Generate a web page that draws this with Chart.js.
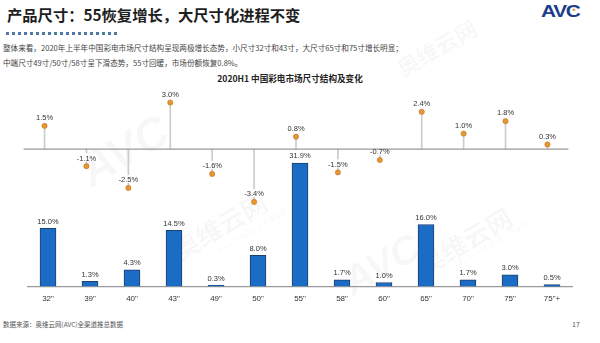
<!DOCTYPE html>
<html>
<head>
<meta charset="utf-8">
<script src="https://cdn.jsdelivr.net/npm/chart.js@4"></script>
<style>
body{margin:0;width:600px;height:343px;position:relative;overflow:hidden;background:#fff;font-family:"Noto Sans CJK SC","Noto Sans",sans-serif;color:#333;}
.abs{position:absolute;white-space:nowrap;}
#title{left:7px;top:3px;font-size:15.3px;font-weight:bold;color:#1e1e1e;}
#dots{left:6px;top:32px;width:112px;height:3px;background:repeating-linear-gradient(90deg,#4f79a6 0 3px,transparent 3px 6px);}
#logo{left:541px;top:3px;font-family:"Liberation Sans",sans-serif;font-size:16px;font-weight:bold;color:#1d3c8c;transform:scaleX(1.3);transform-origin:left center;letter-spacing:-1px;}
#logo span{color:#e8961e;font-size:5px;vertical-align:top;position:relative;left:-6px;top:3px;}
.body{left:3px;font-size:7.6px;color:#444;}
#ctitle{left:0;width:580px;top:72px;text-align:center;font-size:8.6px;font-weight:bold;color:#222;}
#src{left:3px;top:319px;font-size:6.5px;color:#555;}
#page{left:572px;top:319px;font-size:7px;color:#555;}
.wm{position:absolute;color:rgba(0,0,0,0.04);font-weight:bold;white-space:nowrap;transform:rotate(-30deg);transform-origin:left top;}
canvas{position:absolute;}
</style>
</head>
<body>
<div class="abs" id="title">产品尺寸：55恢复增长，大尺寸化进程不变</div>
<div class="abs" id="dots"></div>
<div class="abs" id="logo">AVC<span>●</span></div>
<div class="abs body" style="top:42px">整体来看，2020年上半年中国彩电市场尺寸结构呈现两极增长态势，小尺寸32寸和43寸，大尺寸65寸和75寸增长明显；</div>
<div class="abs body" style="top:57px">中端尺寸49寸/50寸/58寸呈下滑态势，55寸回暖，市场份额恢复0.8%。</div>
<div class="abs" id="ctitle">2020H1 中国彩电市场尺寸结构及变化</div>

<div class="wm" style="left:70px;top:150px;font-size:46px;font-family:'Liberation Sans';font-style:italic;">AVC</div>
<div class="wm" style="left:165px;top:235px;font-size:26px;">奥维云网</div>
<div class="wm" style="left:215px;top:245px;font-size:8px;letter-spacing:1px;">ALL VIEW CLOUD</div>
<div class="wm" style="left:335px;top:265px;font-size:40px;font-family:'Liberation Sans';font-style:italic;">AVC</div>
<div class="wm" style="left:410px;top:250px;font-size:26px;">奥维云网</div>
<div class="wm" style="left:455px;top:258px;font-size:8px;letter-spacing:1px;">ALL VIEW CLOUD</div>
<div class="wm" style="left:390px;top:55px;font-size:22px;">奥维云网</div>

<canvas id="bars" width="546" height="164" style="left:27px;top:140px"></canvas>
<canvas id="change" width="554" height="145" style="left:19px;top:80px"></canvas>

<div class="abs" id="src">数据来源：奥维云网(AVC)全渠道推总数据</div>
<div class="abs" id="page">17</div>

<script>
const sizes = ['32"', '39"', '40"', '43"', '49"', '50"', '55"', '58"', '60"', '65"', '70"', '75"', '75"+'];
const share = [15.0, 1.3, 4.3, 14.5, 0.3, 8.0, 31.9, 1.7, 1.0, 16.0, 1.7, 3.0, 0.5];
const change = [1.5, -1.1, -2.5, 3.0, -1.6, -3.4, 0.8, -1.5, -0.7, 2.4, 1.0, 1.8, 0.3];

const labelFont = '7.5px "Liberation Sans", sans-serif';

const barLabels = {
    id: 'barLabels',
    afterDatasetsDraw(chart) {
        const c = chart.ctx;
        c.save();
        c.font = labelFont;
        c.fillStyle = '#333';
        c.textAlign = 'center';
        c.textBaseline = 'bottom';
        chart.getDatasetMeta(0).data.forEach(function (el, i) {
            c.fillText(share[i].toFixed(1) + '%', el.x, el.y - 3);
        });
        c.restore();
    }
};

// white patch behind each label, then the zero line, then the text
const dotLabels = {
    id: 'dotLabels',
    afterDatasetsDraw(chart) {
        const c = chart.ctx;
        const pts = chart.getDatasetMeta(1).data;
        c.save();
        c.font = labelFont;
        c.textAlign = 'center';
        c.textBaseline = 'bottom';
        c.fillStyle = '#fff';
        pts.forEach(function (el, i) {
            const w = c.measureText(change[i].toFixed(1) + '%').width;
            c.fillRect(el.x - w / 2 - 1, el.y - 13, w + 2, 8);
        });
        const y0 = chart.scales.y.getPixelForValue(0);
        c.strokeStyle = '#9a9a9a';
        c.lineWidth = 1.2;
        c.beginPath();
        c.moveTo(chart.chartArea.left, y0);
        c.lineTo(chart.chartArea.right, y0);
        c.stroke();
        c.fillStyle = '#333';
        pts.forEach(function (el, i) {
            c.fillText(change[i].toFixed(1) + '%', el.x, el.y - 4);
        });
        c.restore();
    }
};

new Chart(document.getElementById('bars').getContext('2d'), {
    type: 'bar',
    data: {
        labels: sizes,
        datasets: [{
            data: share,
            backgroundColor: '#1b6cc4',
            borderColor: '#1d3f6e',
            borderWidth: 1,
            barThickness: 16
        }]
    },
    options: {
        responsive: false,
        animation: false,
        layout: { padding: { top: 11, bottom: 0 } },
        plugins: { legend: { display: false }, tooltip: { enabled: false } },
        scales: {
            x: {
                grid: { display: false },
                border: { color: '#9a9a9a', width: 1.2 },
                ticks: { color: '#333', font: { size: 8, family: '"Liberation Sans", sans-serif' }, padding: 0 }
            },
            y: { display: false, min: 0, max: 35 }
        }
    },
    plugins: [barLabels]
});

new Chart(document.getElementById('change').getContext('2d'), {
    data: {
        labels: sizes,
        datasets: [{
            type: 'bar',
            data: change,
            backgroundColor: '#cccccc',
            barThickness: 1,
            order: 2
        }, {
            type: 'line',
            data: change,
            showLine: false,
            pointRadius: 2.6,
            pointBackgroundColor: '#e8962e',
            pointBorderColor: '#b8762a',
            pointBorderWidth: 0.6,
            order: 1
        }]
    },
    options: {
        responsive: false,
        animation: false,
        layout: { padding: { top: 7, bottom: 6 } },
        plugins: { legend: { display: false }, tooltip: { enabled: false } },
        scales: {
            x: { display: false },
            y: { display: false, min: -4.5, max: 4 }
        }
    },
    plugins: [dotLabels]
});
</script>
</body>
</html>
